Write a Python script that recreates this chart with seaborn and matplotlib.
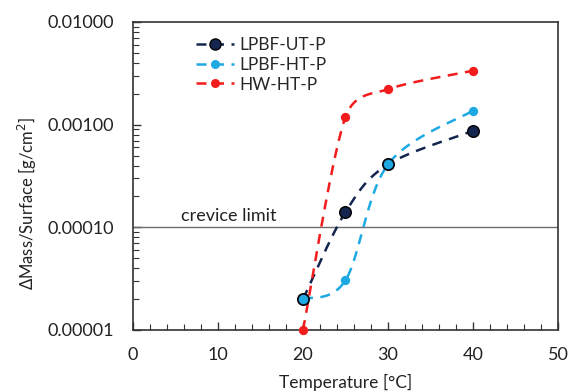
import numpy as np
import pandas as pd
import matplotlib
matplotlib.use("Agg")
import matplotlib.pyplot as plt
from matplotlib.lines import Line2D
from matplotlib.ticker import FixedLocator, MultipleLocator, LogLocator, NullFormatter
import seaborn as sns

temperature = [20, 25, 30, 40]
lpbf_ut_p = [2.0e-5, 1.41e-4, 4.1e-4, 8.7e-4]
lpbf_ht_p = [2.0e-5, 3.05e-5, 4.1e-4, 1.37e-3]
hw_ht_p = [1.0e-5, 1.19e-3, 2.21e-3, 3.35e-3]
series_names = ["LPBF-UT-P", "LPBF-HT-P", "HW-HT-P"]
y_ticks = [1e-5, 1e-4, 1e-3, 1e-2]
y_tick_labels = ["0.00001", "0.00010", "0.00100", "0.01000"]
crevice_limit = 1e-4

sns.set_style("white")
plt.rcParams['font.family'] = ['Lato', 'DejaVu Sans']

fig = plt.figure(figsize=(5.72, 3.92), dpi=100)
ax = fig.add_axes([0.2325, 0.1582, 0.743, 0.7857])
ax.set_yscale("log")
ax.set_xlim(0, 50)
ax.set_ylim(1e-5, 1e-2)

XS, YS = 8.5, 102.7  # approx px per unit / decade for Excel-like smoothing


def smooth(xs, ys, n=50):
    P = np.column_stack([np.array(xs, float) * XS, np.log10(ys) * YS])
    out = []
    m = len(P)
    for i in range(m - 1):
        p0 = P[i - 1] if i > 0 else P[i]
        p1 = P[i]
        p2 = P[i + 1]
        p3 = P[i + 2] if i + 2 < m else P[i + 1]
        d1 = (p2 - p0) / 6
        d2 = (p3 - p1) / 6
        seg_len = np.linalg.norm(p2 - p1)
        tot = np.linalg.norm(d1) + np.linalg.norm(d2)
        if tot > seg_len * 0.8:
            f = seg_len * 0.8 / tot
            d1 = d1 * f
            d2 = d2 * f
        c1 = p1 + d1
        c2 = p2 - d2
        t = np.linspace(0, 1, n)[:, None]
        seg = ((1 - t) ** 3) * p1 + 3 * ((1 - t) ** 2) * t * c1 + 3 * (1 - t) * t ** 2 * c2 + t ** 3 * p2
        out.append(seg if i == 0 else seg[1:])
    S = np.vstack(out)
    return S[:, 0] / XS, 10 ** (S[:, 1] / YS)


colors = {"LPBF-UT-P": "#14254f", "LPBF-HT-P": "#1ea9e3", "HW-HT-P": "#f21c1c"}
data = {"LPBF-UT-P": lpbf_ut_p, "LPBF-HT-P": lpbf_ht_p, "HW-HT-P": hw_ht_p}

ax.axhline(crevice_limit, color="#6e6e6e", lw=1.0, zorder=1)
ax.text(5.7, crevice_limit * 1.07, "crevice limit", fontsize=13, color="#222222", va="bottom", ha="left")

for name in series_names:
    sx, sy = smooth(temperature, data[name])
    ax.plot(sx, sy, color=colors[name], lw=1.8, dashes=(4, 3), zorder=2, clip_on=False)

df = pd.DataFrame({"T": temperature * 3,
                   "v": lpbf_ut_p + lpbf_ht_p + hw_ht_p,
                   "s": sum([[n] * len(temperature) for n in series_names], [])})
sns.scatterplot(data=df[df.s == "LPBF-UT-P"], x="T", y="v", ax=ax, color=colors["LPBF-UT-P"],
                s=70, edgecolor="black", linewidth=1.0, zorder=3, legend=False, clip_on=False)
sns.scatterplot(data=df[df.s == "LPBF-HT-P"], x="T", y="v", ax=ax, color=colors["LPBF-HT-P"],
                s=45, linewidth=0, zorder=4, legend=False, clip_on=False)
sns.scatterplot(data=df[df.s == "HW-HT-P"], x="T", y="v", ax=ax, color=colors["HW-HT-P"],
                s=45, linewidth=0, zorder=4, legend=False, clip_on=False)

handles = [
    Line2D([], [], color=colors["LPBF-UT-P"], lw=1.8, dashes=(4, 3), marker="o", markersize=8,
           markeredgecolor="black", markerfacecolor=colors["LPBF-UT-P"]),
    Line2D([], [], color=colors["LPBF-HT-P"], lw=1.8, dashes=(4, 3), marker="o", markersize=6.5,
           markeredgewidth=0, markerfacecolor=colors["LPBF-HT-P"]),
    Line2D([], [], color=colors["HW-HT-P"], lw=1.8, dashes=(4, 3), marker="o", markersize=6.5,
           markeredgewidth=0, markerfacecolor=colors["HW-HT-P"]),
]
ax.legend(handles, series_names, loc="upper left", bbox_to_anchor=(0.327, 0.928),
          bbox_transform=fig.transFigure, frameon=False, fontsize=12.5, handlelength=2.2,
          handletextpad=0.3, labelspacing=0.22, borderpad=0)

ax.yaxis.set_major_locator(FixedLocator(y_ticks))
ax.set_yticklabels(y_tick_labels)
ax.yaxis.set_minor_locator(LogLocator(base=10, subs=np.arange(2, 10)))
ax.yaxis.set_minor_formatter(NullFormatter())
ax.xaxis.set_major_locator(MultipleLocator(10))
ax.xaxis.set_minor_locator(MultipleLocator(2))
ax.tick_params(axis="both", which="both", direction="in", top=False, right=False,
               bottom=True, left=True, colors="#333333", labelcolor="#222222", labelsize=13)
ax.tick_params(which="major", length=6, width=1)
ax.tick_params(which="minor", length=4, width=0.8)
ax.tick_params(axis="y", pad=14)
ax.tick_params(axis="x", pad=12)
for sp in ax.spines.values():
    sp.set_color("#333333")
    sp.set_linewidth(1.2)

ax.set_xlabel("Temperature [°C]", fontsize=12.5, color="#222222", labelpad=8)
ax.set_ylabel("ΔMass/Surface [g/cm$^2$]", fontsize=12, color="#222222")
ax.yaxis.set_label_coords(-0.222, 0.41)

fig.savefig("out.png", dpi=100)
